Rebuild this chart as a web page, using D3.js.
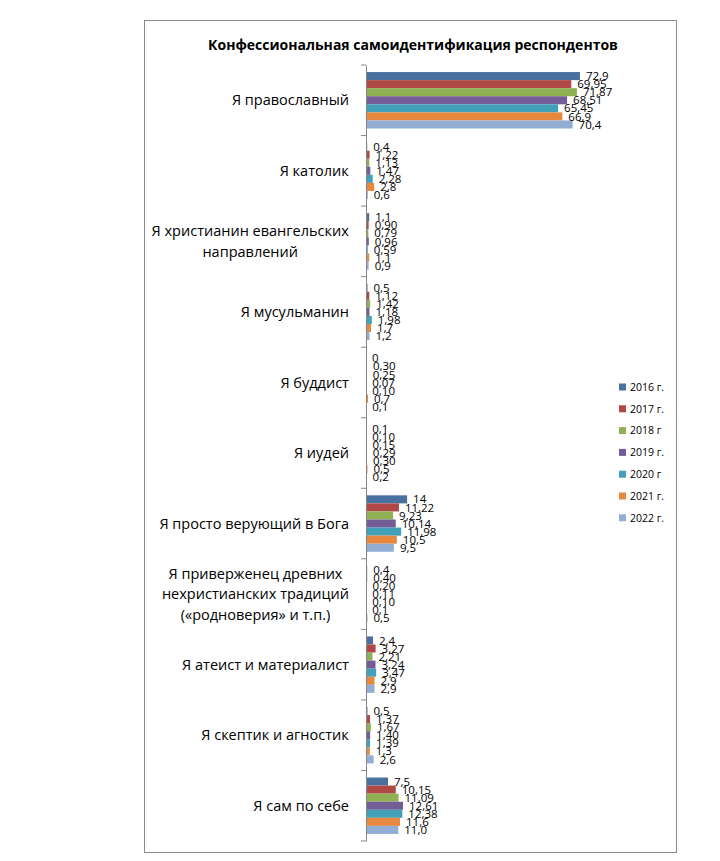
<!DOCTYPE html>
<html><head><meta charset="utf-8">
<script src="https://cdn.jsdelivr.net/npm/d3@7/dist/d3.min.js"></script>
<style>body{margin:0;background:#fff;} svg{display:block;}</style>
</head><body>
<svg id="chart" width="720" height="861"></svg>
<script>
const title = "Конфессиональная самоидентификация респондентов";
const categories = [
  "Я православный",
  "Я католик",
  "Я христианин евангельских|направлений",
  "Я мусульманин",
  "Я буддист",
  "Я иудей",
  "Я просто верующий в Бога",
  "Я приверженец древних|нехристианских традиций|(«родноверия» и т.п.)",
  "Я атеист и материалист",
  "Я скептик и агностик",
  "Я сам по себе"
];
const seriesNames = ["2016 г.", "2017 г.", "2018 г", "2019 г.", "2020 г", "2021 г.", "2022 г."];
const colors = ["#4A70A0", "#B04846", "#8FB153", "#745C96", "#42A0B8", "#E8883E", "#93AED5"];
const v2016 = [72.9, 0.4, 1.1, 0.5, 0, 0.1, 14, 0.4, 2.4, 0.5, 7.5];
const v2017 = [69.95, 1.22, 0.90, 1.12, 0.30, 0.10, 11.22, 0.40, 3.27, 1.37, 10.15];
const v2018 = [71.87, 1.13, 0.79, 1.42, 0.25, 0.15, 9.23, 0.20, 2.21, 1.67, 11.09];
const v2019 = [68.51, 1.47, 0.96, 1.18, 0.07, 0.29, 10.14, 0.11, 3.24, 1.40, 12.61];
const v2020 = [65.45, 2.28, 0.59, 1.98, 0.10, 0.30, 11.98, 0.10, 3.47, 1.39, 12.38];
const v2021 = [66.9, 2.8, 1.1, 1.7, 0.7, 0.5, 10.5, 0.1, 2.9, 1.3, 11.6];
const v2022 = [70.4, 0.6, 0.9, 1.2, 0.1, 0.2, 9.5, 0.5, 2.9, 2.6, 11.0];
const seriesValues = [v2016, v2017, v2018, v2019, v2020, v2021, v2022];
const labelDecimals = [null, 2, 2, 2, 2, 1, 1];
const xMax = 80;

const svg = d3.select("#chart");
const font = "'Open Sans', 'DejaVu Sans', sans-serif";

// frame
svg.append("rect").attr("x", 144.5).attr("y", 20.5).attr("width", 532).attr("height", 832)
  .attr("fill", "#fff").attr("stroke", "#8c8c8c").attr("stroke-width", 1);

svg.append("text").attr("x", 413).attr("y", 50).attr("text-anchor", "middle")
  .attr("font-family", font).attr("font-weight", "bold").attr("font-size", 14)
  .attr("fill", "#000").text(title);

const y = d3.scaleBand().domain(categories).range([65, 841]).paddingInner(0.2).paddingOuter(0.1);
const yInner = d3.scaleBand().domain(seriesNames).range([0, y.bandwidth()]);
const x = d3.scaleLinear().domain([0, xMax]).range([366, 366 + 80 * 2.935]);

const fmt = (v, d) => {
  const s = d == null ? String(v) : v.toFixed(d);
  return s.replace(".", ",");
};

// bars
seriesNames.forEach((name, si) => {
  const g = svg.append("g");
  const data = categories.map((c, ci) => ({c, v: seriesValues[si][ci]}));
  g.selectAll("rect").data(data).join("rect")
    .attr("x", x(0))
    .attr("y", d => y(d.c) + yInner(name))
    .attr("width", d => x(d.v) - x(0))
    .attr("height", yInner.bandwidth())
    .attr("fill", colors[si]);
});
// labels
seriesNames.forEach((name, si) => {
  const data = categories.map((c, ci) => ({c, v: seriesValues[si][ci]}));
  svg.append("g").selectAll("text").data(data).join("text")
    .attr("x", d => x(d.v) + 6)
    .attr("y", d => y(d.c) + yInner(name) + yInner.bandwidth() / 2)
    .attr("dy", "0.36em")
    .attr("font-family", font).attr("font-size", 11.5).attr("fill", "#000")
    .text(d => fmt(d.v, labelDecimals[si]));
});

// axis
const axis = d3.axisLeft(y).tickSize(0).tickFormat("");
const ag = svg.append("g").attr("transform", `translate(${x(0)},0)`).call(axis);
ag.select(".domain").attr("stroke", "#868686");
// band boundary ticks
const bounds = categories.map(c => y(c) - y.step() * y.paddingInner() / 2);
bounds.push(y(categories[categories.length - 1]) + y.bandwidth() + y.step() * y.paddingInner() / 2);
svg.append("g").selectAll("line").data(bounds).join("line")
  .attr("x1", x(0) - 5).attr("x2", x(0)).attr("y1", d => d).attr("y2", d => d)
  .attr("stroke", "#868686");

// category labels
categories.forEach(c => {
  const lines = c.split("|");
  const cy = y(c) + y.bandwidth() / 2;
  const lh = 20.5;
  const t = svg.append("text").attr("font-family", font).attr("font-size", 14.5).attr("fill", "#000")
    .attr("text-anchor", "middle");
  lines.forEach((ln, i) => {
    t.append("tspan").attr("x", 0).attr("y", cy + (i - (lines.length - 1) / 2) * lh).attr("dy", "0.36em").text(ln);
  });
  const w = t.node().getBBox().width;
  t.selectAll("tspan").attr("x", 349 - w / 2);
});

// legend
const lg = svg.append("g");
seriesNames.forEach((name, i) => {
  const ly = 387 + i * 21.8;
  lg.append("rect").attr("x", 619).attr("y", ly - 3.5).attr("width", 7).attr("height", 7).attr("fill", colors[i]);
  lg.append("text").attr("x", 630).attr("y", ly).attr("dy", "0.36em")
    .attr("font-family", font).attr("font-size", 10.5).attr("fill", "#000").text(name);
});
</script>
</body></html>
